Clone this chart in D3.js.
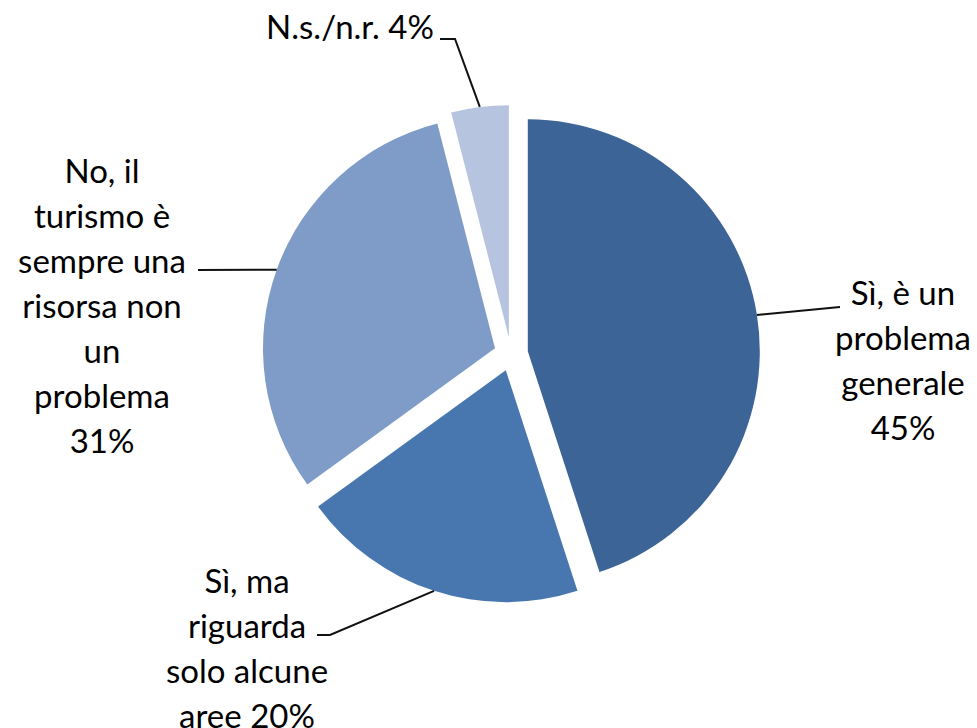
<!DOCTYPE html>
<html>
<head>
<meta charset="utf-8">
<script src="https://cdn.jsdelivr.net/npm/d3@7"></script>
<style>
  body { margin: 0; background: #fff; }
  text { font-family: Lato, "Open Sans", sans-serif; fill: #000; }
</style>
</head>
<body>
<script>
// dati del grafico
var categories = ['Sì, è un problema generale', 'Sì, ma riguarda solo alcune aree', 'No, il turismo è sempre una risorsa non un problema', 'N.s./n.r.'];
var values = [45, 20, 31, 4];
var labelLines = [
    ['Sì, è un', 'problema', 'generale', '45%'],
    ['Sì, ma', 'riguarda', 'solo alcune', 'aree 20%'],
    ['No, il', 'turismo è', 'sempre una', 'risorsa non', 'un', 'problema', '31%'],
    ['N.s./n.r. 4%']
];
var colors = ['#3d6496', '#4877af', '#7f9bc7', '#b7c4df'];

// posizione delle etichette (centro x, prima baseline y) e gomito della linea guida
var labelPos = [[903, 305], [247, 593], [102, 183], [350, 39]];
var elbows = [[840, 307], [330, 635], [198, 270], [455, 39]];
var elbowEnds = [[840, 307], [317, 635], [198, 270], [440, 39]];

function drawPie() {
    var width = 977, height = 728;
    var cx = 511, cy = 354, radius = 232, explode = 17, lineHeight = 45;

    var svg = d3.select('body').append('svg')
        .attr('width', width)
        .attr('height', height);

    var pie = d3.pie().sort(null).value(function(d) { return d; });
    var arcs = pie(values);

    var arc = d3.arc().innerRadius(0).outerRadius(radius);
    var edge = d3.arc().innerRadius(radius).outerRadius(radius);
    var shift = d3.arc().innerRadius(explode).outerRadius(explode);

    // fette esplose lungo la bisettrice
    svg.append('g').attr('transform', 'translate(' + cx + ',' + cy + ')')
        .selectAll('path').data(arcs)
        .enter().append('path')
        .attr('d', arc)
        .attr('fill', function(d, i) { return colors[i]; })
        .attr('transform', function(d) {
            var c = shift.centroid(d);
            return 'translate(' + c[0] + ',' + c[1] + ')';
        });

    // linee guida
    svg.append('g').selectAll('path').data(arcs)
        .enter().append('path')
        .attr('fill', 'none')
        .attr('stroke', '#111')
        .attr('stroke-width', 2)
        .attr('d', function(d, i) {
            var s = shift.centroid(d), e = edge.centroid(d);
            var start = [cx + s[0] + e[0], cy + s[1] + e[1]];
            return d3.line()([start, elbows[i], elbowEnds[i]]);
        });

    // etichette
    var labels = svg.append('g').selectAll('text').data(arcs)
        .enter().append('text')
        .attr('text-anchor', 'middle')
        .attr('font-size', 33)
        .attr('x', function(d, i) { return labelPos[i][0]; })
        .attr('y', function(d, i) { return labelPos[i][1]; });

    labels.each(function(d, i) {
        d3.select(this).selectAll('tspan').data(labelLines[i])
            .enter().append('tspan')
            .attr('x', labelPos[i][0])
            .attr('dy', function(t, j) { return j === 0 ? 0 : lineHeight; })
            .text(function(t) { return t; });
    });
}

drawPie();
</script>
</body>
</html>
